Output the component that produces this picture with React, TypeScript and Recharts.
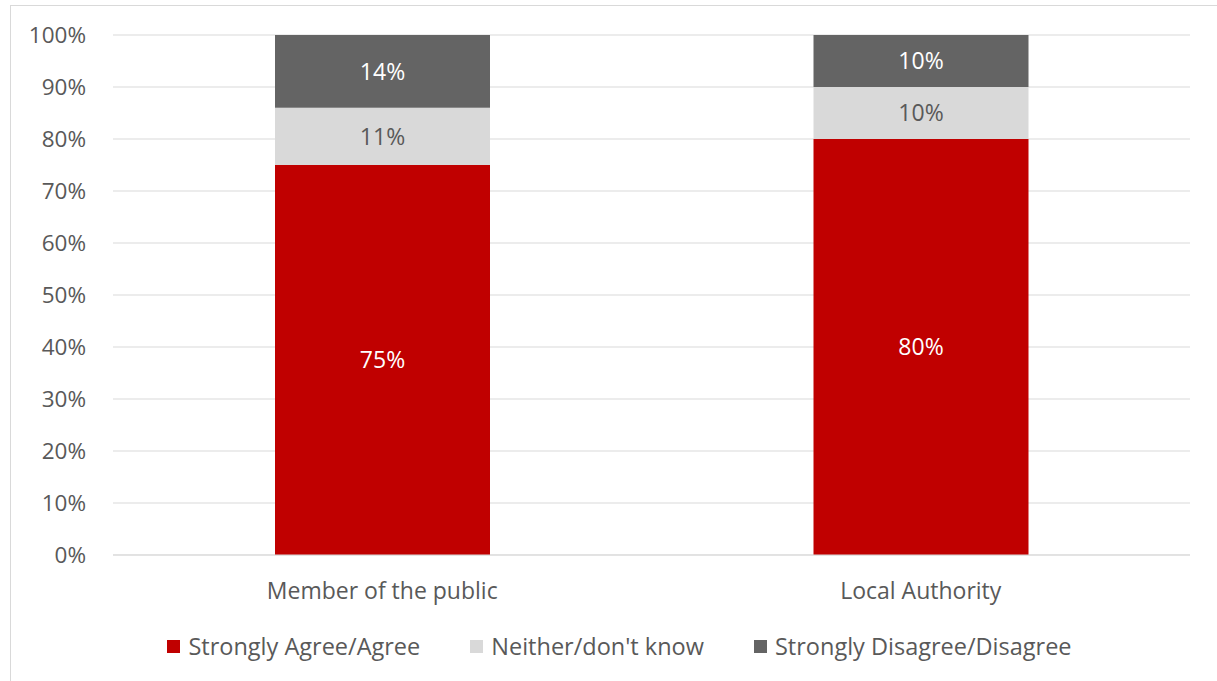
import { BarChart, Bar, XAxis, YAxis, CartesianGrid, Legend, LabelList } from 'recharts'

const CATEGORIES = ['Member of the public', 'Local Authority']
const AGREE = [75, 80]
const NEITHER = [11, 10]
const DISAGREE = [14, 10]
const Y_TICKS = [0, 10, 20, 30, 40, 50, 60, 70, 80, 90, 100]

const SERIES = [
  { key: 'agree', name: 'Strongly Agree/Agree', color: '#c00000', label: '#ffffff' },
  { key: 'neither', name: "Neither/don't know", color: '#d9d9d9', label: '#595959' },
  { key: 'disagree', name: 'Strongly Disagree/Disagree', color: '#646464', label: '#ffffff' },
]

const data = CATEGORIES.map((name, i) => ({
  name,
  agree: AGREE[i],
  neither: NEITHER[i],
  disagree: DISAGREE[i],
}))

const FONT = '"Open Sans", sans-serif'

function LegendContent() {
  return (
    <div style={{ display: 'flex', justifyContent: 'center', gap: 50, fontFamily: FONT, fontSize: 23.5, lineHeight: '31px', color: '#595959', paddingLeft: 49 }}>
      {SERIES.map((s) => (
        <div key={s.key} style={{ display: 'flex', alignItems: 'center' }}>
          <span style={{ width: 13, height: 13, background: s.color, marginRight: 8, display: 'inline-block' }} />
          <span>{s.name}</span>
        </div>
      ))}
    </div>
  )
}

export default function App() {
  return (
    <div style={{ position: 'absolute', left: 0, top: 0, width: 1217, height: 681, background: '#fff', overflow: 'hidden' }}>
      <div style={{ position: 'absolute', left: 10, top: 5, width: 1220, height: 690, border: '1px solid #d9d9d9' }} />
      <div style={{ position: 'absolute', left: 0, top: 0 }}>
        <BarChart width={1217} height={681} data={data} margin={{ top: 35, right: 27, left: 0, bottom: 4 }}>
          <CartesianGrid vertical={false} stroke="#d9d9d9" strokeWidth={1} />
          <XAxis
            dataKey="name"
            tickLine={false}
            axisLine={{ stroke: '#d9d9d9' }}
            tick={{ fill: '#595959', fontSize: 23, fontFamily: FONT }}
            tickMargin={22}
            height={76}
          />
          <YAxis
            width={113}
            domain={[0, 100]}
            ticks={Y_TICKS}
            tickFormatter={(v) => `${v}%`}
            tickLine={false}
            axisLine={false}
            tickSize={0}
            tickMargin={27}
            tick={{ fill: '#595959', fontSize: 22.5, fontFamily: FONT }}
          />
          <Legend verticalAlign="bottom" height={46} content={<LegendContent />} />
          {SERIES.map((s) => (
            <Bar key={s.key} dataKey={s.key} name={s.name} stackId="a" fill={s.color} barSize={215} isAnimationActive={false}>
              <LabelList
                dataKey={s.key}
                position="center"
                formatter={(v: unknown) => `${v}%`}
                style={{ fill: s.label, fontSize: 23, fontFamily: FONT }}
              />
            </Bar>
          ))}
        </BarChart>
      </div>
    </div>
  )
}
